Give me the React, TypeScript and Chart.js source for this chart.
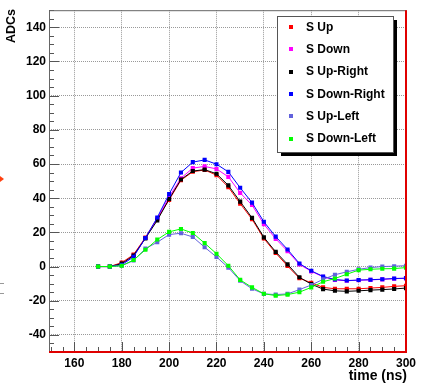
import React, { useEffect, useRef } from "react";
import { Chart, registerables } from "chart.js";

Chart.register(...registerables);

// ---- data ----
const times = [170, 175, 180, 185, 190, 195, 200, 205, 210, 215, 220, 225, 230, 235, 240, 245, 250, 255, 260, 265, 270, 275, 280, 285, 290, 295, 300];
const sUp = [0, 0, 2.3, 7, 17, 28, 39, 50.5, 55.5, 56.5, 53.5, 46.5, 36.8, 27.7, 16.4, 7.9, 0.3, -6.8, -9.5, -12.2, -13, -13, -13, -12.6, -12.2, -11.6, -11.2];
const sDown = [0, 0, 1.5, 6.3, 16.7, 28, 40.7, 51.7, 57.6, 58.6, 57.1, 52.5, 43.1, 36, 24.8, 16.2, 9, 1.3, -2.8, -6, -7.8, -8.3, -8, -7.8, -7.5, -7.1, -6.9];
const sUpRight = [0, 0, 1.7, 6.5, 16.5, 27, 39.5, 50.9, 55.9, 56.7, 54.3, 47.5, 38, 28.5, 17.1, 8.6, 1.3, -6.3, -10.3, -13.2, -14.2, -14.5, -14.2, -13.8, -13.5, -13.1, -12.6];
const sDownRight = [0, 0, 1, 5.7, 16.7, 28.7, 42.4, 55, 61.1, 62.4, 59.9, 55.4, 46.1, 37.4, 26.2, 17.5, 10, 1.8, -2.5, -5.8, -7.6, -8.2, -7.9, -7.7, -7.4, -7, -6.8];
const sUpLeft = [0, 0, 0.5, 3.5, 10.5, 14.2, 18.7, 19.5, 17.3, 11.3, 5.6, -0.6, -8.3, -13, -16, -16.4, -16, -13.5, -10.8, -7.5, -4.8, -3.1, -1.6, -0.6, 0, 0.2, 0.5];
const sDownLeft = [0, 0, 0.5, 3.8, 9.8, 15.8, 20.3, 22, 19.6, 13.7, 7.5, 0.5, -7.8, -12.2, -15.9, -17, -16.4, -15, -12.2, -8.9, -7, -4.5, -2.1, -1.6, -1.3, -1.2, -0.6];

const seriesLabels = ["S Up", "S Down", "S Up-Right", "S Down-Right", "S Up-Left", "S Down-Left"];
const seriesValues = [sUp, sDown, sUpRight, sDownRight, sUpLeft, sDownLeft];
const seriesColors = ["#ff0000", "#ff00ff", "#000000", "#0000ff", "#6262dc", "#00ff00"];

const xTicks = [160, 180, 200, 220, 240, 260, 280, 300];
const yTicks = [-40, -20, 0, 20, 40, 60, 80, 100, 120, 140];
const xRange = [149.3, 300];
const yRange = [-50, 150];
const xMinorStep = 5;
const yMinorStep = 5;

const xTitle = "time (ns)";
const yTitle = "ADCs";

const FONT = "'Liberation Sans', Arial, Helvetica, sans-serif";

const decorPlugin = {
  id: "rootDecor",
  afterDatasetsDraw(chart: any) {
    const { ctx, chartArea, scales } = chart;
    const { left, right, top, bottom } = chartArea;
    const x = scales.x;
    const y = scales.y;
    ctx.save();
    // inner ticks
    ctx.strokeStyle = "#555";
    ctx.lineWidth = 1;
    ctx.beginPath();
    for (let v = yRange[0]; v <= yRange[1]; v += yMinorStep) {
      const py = Math.round(y.getPixelForValue(v)) + 0.5;
      const len = yTicks.includes(v) ? 10 : 5;
      ctx.moveTo(left, py);
      ctx.lineTo(left + len, py);
    }
    for (let v = 150; v <= xRange[1]; v += xMinorStep) {
      const px = Math.round(x.getPixelForValue(v)) + 0.5;
      const len = xTicks.includes(v) ? 10 : 5;
      ctx.moveTo(px, bottom);
      ctx.lineTo(px, bottom - len);
    }
    ctx.stroke();
    // frame
    ctx.strokeStyle = "#666";
    ctx.beginPath();
    ctx.moveTo(left + 0.5, bottom);
    ctx.lineTo(left + 0.5, top + 0.5);
    ctx.lineTo(right, top + 0.5);
    ctx.stroke();
    ctx.strokeStyle = "#e00000";
    ctx.lineWidth = 2;
    ctx.beginPath();
    ctx.moveTo(left, bottom);
    ctx.lineTo(right, bottom);
    ctx.lineTo(right, top);
    ctx.stroke();
    ctx.restore();
  },
  afterDraw(chart: any) {
    const { ctx, chartArea } = chart;
    ctx.save();
    // axis titles
    ctx.fillStyle = "#000";
    ctx.font = `bold 14px ${FONT}`;
    ctx.textAlign = "right";
    ctx.textBaseline = "alphabetic";
    ctx.fillText(xTitle, chartArea.right + 1, 380);
    ctx.save();
    ctx.translate(12, 9);
    ctx.rotate(-Math.PI / 2);
    ctx.font = `bold 12.5px ${FONT}`;
    ctx.textAlign = "right";
    ctx.textBaseline = "middle";
    ctx.fillText(yTitle, 0, 0);
    ctx.restore();

    // legend box
    const bx = 277, by = 16, bw = 116, bh = 136;
    ctx.fillStyle = "#000";
    ctx.fillRect(bx + 4, by + 4, bw, bh);
    ctx.fillStyle = "#fff";
    ctx.fillRect(bx, by, bw, bh);
    ctx.strokeStyle = "#555";
    ctx.lineWidth = 1;
    ctx.strokeRect(bx + 0.5, by + 0.5, bw, bh);
    ctx.font = `bold 12px ${FONT}`;
    ctx.textAlign = "left";
    ctx.textBaseline = "middle";
    chart.data.datasets.forEach((ds: any, i: number) => {
      const ry = 27 + i * 22.3;
      ctx.fillStyle = ds.borderColor;
      ctx.fillRect(289, Math.round(ry) - 2, 4, 4);
      ctx.fillStyle = "#000";
      ctx.fillText(ds.label, 306, ry + 0.5);
    });

    // cropped-edge remnants of the neighbouring figure
    ctx.fillStyle = "#ff4010";
    ctx.beginPath();
    ctx.moveTo(0, 176);
    ctx.lineTo(4, 179);
    ctx.lineTo(0, 182);
    ctx.closePath();
    ctx.fill();
    ctx.fillStyle = "#999";
    ctx.fillRect(0, 283, 4, 1);
    ctx.fillRect(0, 293, 4, 1);
    ctx.restore();
  },
};

export default function App() {
  const ref = useRef<HTMLCanvasElement | null>(null);
  useEffect(() => {
    document.body.style.margin = "0";
    const canvas = ref.current;
    if (!canvas) return;
    const datasets = seriesLabels.map((label, i) => ({
      label,
      data: times.map((t, j) => ({ x: t, y: seriesValues[i][j] })),
      borderColor: seriesColors[i],
      backgroundColor: seriesColors[i],
      borderWidth: 1,
      pointStyle: "rect" as const,
      pointRadius: 2.9,
      pointBorderWidth: 0,
      showLine: true,
      tension: 0,
      order: 5 - i,
    }));
    const chart = new Chart(canvas, {
      type: "scatter",
      data: { datasets },
      plugins: [decorPlugin],
      options: {
        animation: false,
        responsive: false,
        devicePixelRatio: 1,
        layout: { padding: { left: 0, right: 15, top: 7, bottom: 0 } },
        plugins: { legend: { display: false }, tooltip: { enabled: false } },
        scales: {
          x: {
            type: "linear",
            min: xRange[0],
            max: xRange[1],
            afterBuildTicks: (s: any) => {
              s.ticks = xTicks.map((v) => ({ value: v }));
            },
            afterFit: (s: any) => {
              s.height = 33;
            },
            grid: { color: "#999999", lineWidth: 1, drawTicks: false },
            border: { display: false, dash: [1, 1] },
            ticks: {
              padding: 4,
              color: "#000",
              maxRotation: 0,
              autoSkip: false,
              font: { family: FONT, weight: "bold", size: 12 },
            },
          },
          y: {
            type: "linear",
            min: yRange[0],
            max: yRange[1],
            afterBuildTicks: (s: any) => {
              s.ticks = yTicks.map((v) => ({ value: v }));
            },
            afterFit: (s: any) => {
              s.width = 49;
            },
            grid: { color: "#999999", lineWidth: 1, drawTicks: false },
            border: { display: false, dash: [1, 1] },
            ticks: {
              padding: 3,
              color: "#000",
              autoSkip: false,
              font: { family: FONT, weight: "bold", size: 12 },
            },
          },
        },
      } as any,
    });
    return () => chart.destroy();
  }, []);
  return (
    <div style={{ position: "absolute", left: 0, top: 0, width: 421, height: 385, background: "#fff" }}>
      <canvas ref={ref} width={421} height={385} style={{ width: 421, height: 385, display: "block" }} />
    </div>
  );
}
